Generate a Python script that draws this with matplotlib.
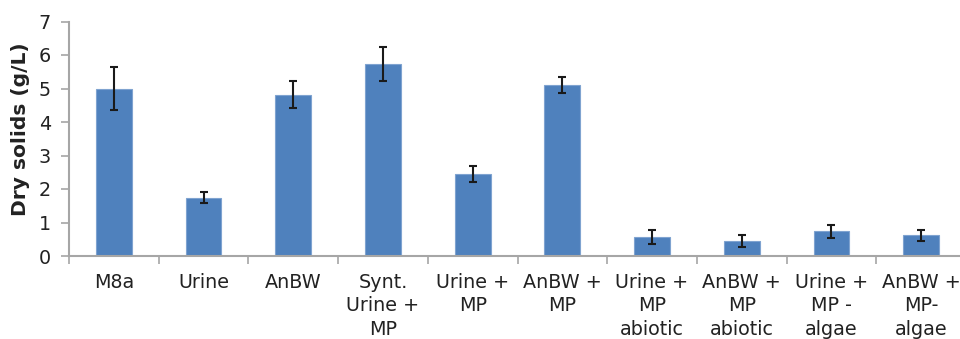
import matplotlib.pyplot as plt
import numpy as np

categories = ["M8a", "Urine", "AnBW", "Synt.\nUrine +\nMP", "Urine +\nMP",
              "AnBW +\nMP", "Urine +\nMP\nabiotic", "AnBW +\nMP\nabiotic",
              "Urine +\nMP -\nalgae", "AnBW +\nMP-\nalgae"]
dry_solids = [5.0, 1.74, 4.82, 5.72, 2.46, 5.10, 0.58, 0.46, 0.74, 0.62]
errors = [0.63, 0.16, 0.40, 0.51, 0.24, 0.24, 0.21, 0.18, 0.20, 0.17]

axis_gray = "#A6A6A6"

fig = plt.figure(figsize=(9.6, 3.39), dpi=100)
ax = fig.add_axes([69 / 960, 83 / 339, 897 / 960, 234.5 / 339])

x = np.arange(len(categories))
ax.bar(x, dry_solids, width=0.4, color="#4F81BD", edgecolor="#7FA3D0",
       linewidth=0.8, zorder=2)
ax.errorbar(x, dry_solids, yerr=errors, fmt="none", ecolor="#1a1a1a",
            elinewidth=1.5, capsize=3.2, capthick=1.5, zorder=3)

ax.set_xlim(-0.5, len(categories) - 0.5)
ax.set_ylim(0, 7)
ax.set_yticks(range(0, 8))

ax.set_xticks(x)
ax.set_xticklabels(categories, fontsize=13.8, color="#222222", linespacing=1.32)
ax.set_xticks(np.arange(-0.5, len(categories), 1), minor=True)
ax.tick_params(axis="x", which="major", length=0, pad=12)
ax.tick_params(axis="x", which="minor", length=6, width=1.2, color=axis_gray)
ax.tick_params(axis="y", length=6, width=1.2, color=axis_gray,
               labelsize=13.8, labelcolor="#222222", pad=7)

for s in ["top", "right"]:
    ax.spines[s].set_visible(False)
for s in ["left", "bottom"]:
    ax.spines[s].set_color(axis_gray)
    ax.spines[s].set_linewidth(1.5)

ax.set_ylabel("Dry solids (g/L)", fontsize=14.6, fontweight="bold",
              color="#222222")
ax.yaxis.set_label_coords(-0.044, 0.54)

fig.savefig("out.png", dpi=100)
